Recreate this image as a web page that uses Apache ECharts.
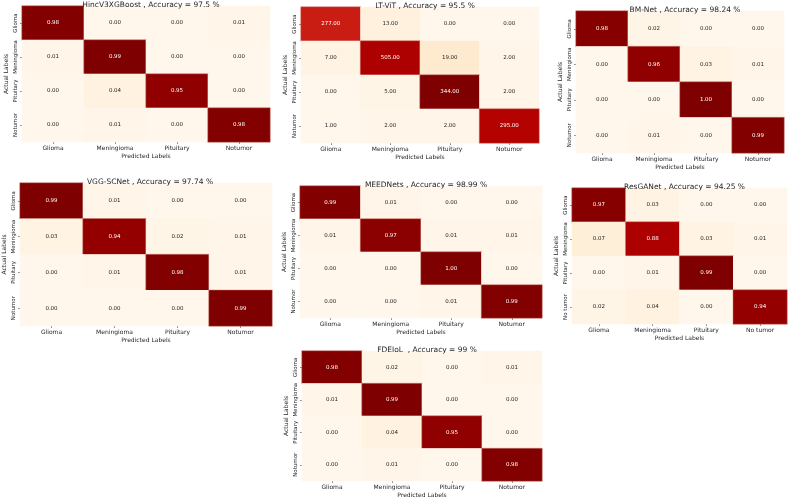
<!DOCTYPE html>
<html>
<head>
<meta charset="utf-8">
<script src="https://cdn.jsdelivr.net/npm/echarts@6/dist/echarts.min.js"></script>
<style>html,body{margin:0;padding:0;background:#fff}#c{width:788px;height:499px}</style>
</head>
<body>
<div id="c"></div>
<script>
// ---- data ----
const classes = ['Glioma', 'Meningioma', 'Pituitary', 'Notumor'];
const classesResGAN = ['Glioma', 'Meningioma', 'Pituitary', 'No tumor'];

const titles = [
  'HincV3XGBoost , Accuracy = 97.5 %',
  'LT-ViT , Accuracy = 95.5 %',
  'BM-Net , Accuracy = 98.24 %',
  'VGG-SCNet , Accuracy = 97.74 %',
  'MEEDNets , Accuracy = 98.99 %',
  'ResGANet , Accuracy = 94.25 %',
  'FDEIoL  , Accuracy = 99 %'
];

const hincV3XGBoost = [[0.98,0.00,0.00,0.01],[0.01,0.99,0.00,0.00],[0.00,0.04,0.95,0.00],[0.00,0.01,0.00,0.98]];
const ltVit = [[277,13,0,0],[7,505,19,2],[0,5,344,2],[1,2,2,295]];
// colour intensity of LT-ViT cells (0..1)
const ltVitShade = [[0.80,0.05,0.00,0.00],[0.03,0.89,0.10,0.01],[0.00,0.02,1.00,0.01],[0.00,0.01,0.01,0.87]];
const bmNet = [[0.98,0.02,0.00,0.00],[0.00,0.96,0.03,0.01],[0.00,0.00,1.00,0.00],[0.00,0.01,0.00,0.99]];
const vggScNet = [[0.99,0.01,0.00,0.00],[0.03,0.94,0.02,0.01],[0.00,0.01,0.98,0.01],[0.00,0.00,0.00,0.99]];
const meedNets = [[0.99,0.01,0.00,0.00],[0.01,0.97,0.01,0.01],[0.00,0.00,1.00,0.00],[0.00,0.00,0.01,0.99]];
const resGANet = [[0.97,0.03,0.00,0.00],[0.07,0.88,0.03,0.01],[0.00,0.01,0.99,0.00],[0.02,0.04,0.00,0.94]];
const fdeIoL = [[0.98,0.02,0.00,0.01],[0.01,0.99,0.00,0.00],[0.00,0.04,0.95,0.00],[0.00,0.01,0.00,0.98]];

const matrices = [hincV3XGBoost, ltVit, bmNet, vggScNet, meedNets, resGANet, fdeIoL];
const shades = [null, ltVitShade, null, null, null, null, null];
const labelSets = [classes, classes, classes, classes, classes, classesResGAN, classes];

// ---- layout ----
const grids = [
  {left: 22, top: 6, width: 248, height: 136},
  {left: 301, top: 7, width: 238, height: 136},
  {left: 576, top: 11, width: 208, height: 142},
  {left: 18, top: 183, width: 254, height: 143},
  {left: 300, top: 186, width: 242, height: 132},
  {left: 572, top: 188, width: 215, height: 136},
  {left: 302, top: 351, width: 240, height: 136}
];

const OrRd = ['#fff7ec','#fee8c8','#fdd49e','#fdbb84','#fc8d59','#ef6548','#d7301f','#b30000','#7f0000'];
const FONT = 'DejaVu Sans';

const option = {
  animation: false,
  backgroundColor: '#fff',
  title: [], grid: [], xAxis: [], yAxis: [], series: [], visualMap: []
};

matrices.forEach((m, k) => {
  const g = grids[k];
  const flat = m.flat();
  const sh = shades[k];
  const vmin = sh ? 0 : Math.min(...flat);
  const vmax = sh ? 1 : Math.max(...flat);
  const data = [];
  m.forEach((row, i) => row.forEach((v, j) => {
    const s = sh ? sh[i][j] : (v - vmin) / (vmax - vmin);
    const item = sh ? [j, i, v, s] : [j, i, v];
    data.push({
      value: item,
      label: {color: s > 0.55 ? '#ffffff' : '#262626'},
      itemStyle: s > 0.55 ? {borderColor: 'rgba(205,120,110,0.6)', borderWidth: 0.8} : {borderWidth: 0}
    });
  }));
  option.grid.push({left: g.left, top: g.top, width: g.width, height: g.height});
  option.title.push({
    text: titles[k], left: g.left + g.width / 2, top: g.top - 10, textAlign: 'center',
    textStyle: {fontFamily: FONT, fontSize: 7.5, fontWeight: 'normal', color: '#262626'}
  });
  option.xAxis.push({
    type: 'category', gridIndex: k, data: labelSets[k],
    name: 'Predicted Labels', nameLocation: 'middle', nameGap: 11,
    nameTextStyle: {fontFamily: FONT, fontSize: 6, color: '#262626'},
    axisLine: {show: false}, splitLine: {show: false},
    axisTick: {show: true, alignWithLabel: true, interval: 0, length: 2, lineStyle: {color: '#444', width: 0.6}},
    axisLabel: {interval: 0, fontFamily: FONT, fontSize: 6, color: '#262626', margin: 3}
  });
  option.yAxis.push({
    type: 'category', gridIndex: k, data: labelSets[k], inverse: true,
    name: 'Actual Labels', nameLocation: 'middle', nameGap: 13, nameRotate: 90,
    nameTextStyle: {fontFamily: FONT, fontSize: 6, color: '#262626'},
    axisLine: {show: false}, splitLine: {show: false},
    axisTick: {show: true, alignWithLabel: true, interval: 0, length: 2, lineStyle: {color: '#444', width: 0.6}},
    axisLabel: {interval: 0, hideOverlap: false, fontFamily: FONT, fontSize: 5.5, color: '#262626', rotate: 90, margin: 3}
  });
  option.series.push({
    type: 'heatmap', xAxisIndex: k, yAxisIndex: k, data: data,
    label: {show: true, fontFamily: FONT, fontSize: 5.5,
      formatter: p => p.value[2].toFixed(2)},
    emphasis: {disabled: true}
  });
  option.visualMap.push({
    type: 'continuous', show: false, seriesIndex: k, dimension: sh ? 3 : 2,
    min: vmin, max: vmax, inRange: {color: OrRd}
  });
});

const chart = echarts.init(document.getElementById('c'));
chart.setOption(option);
</script>
</body>
</html>
